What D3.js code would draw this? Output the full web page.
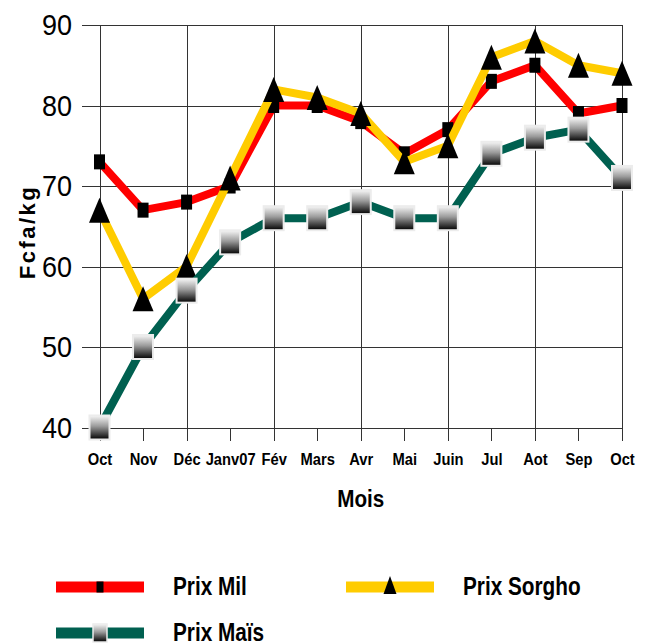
<!DOCTYPE html>
<html>
<head>
<meta charset="utf-8">
<script src="https://cdn.jsdelivr.net/npm/d3@7"></script>
<style>
  body { margin: 0; background: #fff; }
  svg { display: block; font-family: "Liberation Sans", Arial, sans-serif; }
  .grid line { stroke: #333; stroke-width: 1; shape-rendering: crispEdges; }
</style>
</head>
<body>
<div id="graph"></div>
<script>
// data
var months = ["Oct", "Nov", "Déc", "Janv07", "Fév", "Mars", "Avr", "Mai", "Juin", "Jul", "Aot", "Sep", "Oct"];
var prixMil    = [73, 67, 68, 70, 80, 80, 78, 74, 77, 83, 85, 79, 80];
var prixSorgho = [67, 56, 60, 71, 82, 81, 79, 73, 75, 86, 88, 85, 84];
var prixMais   = [40, 50, 57, 63, 66, 66, 68, 66, 66, 74, 76, 77, 71];
var yTicks = [40, 50, 60, 70, 80, 90];

var W = 649, H = 643;
var pLeft = 99.5, pRight = 622, pTop = 25, pBottom = 427.5;

var svg = d3.select("#graph").append("svg").attr("width", W).attr("height", H);
svg.append("rect").attr("width", W).attr("height", H).attr("fill", "#fff");

var defs = svg.append("defs");
var grad = defs.append("linearGradient").attr("id", "gris").attr("x1", 0).attr("y1", 0).attr("x2", 0).attr("y2", 1);
grad.append("stop").attr("offset", "0%").attr("stop-color", "#f6f6f6");
grad.append("stop").attr("offset", "45%").attr("stop-color", "#9a9a9a");
grad.append("stop").attr("offset", "100%").attr("stop-color", "#000");

var x = d3.scalePoint().domain(d3.range(months.length)).range([pLeft, pRight]);
var y = d3.scaleLinear().domain([40, 90]).range([pBottom, pTop]);

// squeeze text a bit like the original
function condense(sel, f) {
  sel.each(function () {
    var w = this.getComputedTextLength();
    d3.select(this).attr("textLength", w * f).attr("lengthAdjust", "spacingAndGlyphs");
  });
}

// horizontal grid + y labels
var gy = svg.append("g").attr("class", "grid")
  .attr("transform", "translate(" + pRight + ",0)")
  .call(d3.axisLeft(y).tickValues(yTicks).tickSize(pRight - 82).tickPadding(10));
gy.select(".domain").remove();
gy.selectAll("text").attr("font-size", 30).attr("fill", "#000")
  .attr("font-family", "Liberation Sans, Arial, sans-serif");
condense(gy.selectAll("text"), 0.9);

// vertical grid + x labels
var gx = svg.append("g").attr("class", "grid")
  .attr("transform", "translate(0," + pBottom + ")")
  .call(d3.axisBottom(x).tickSizeInner(13).tickSizeOuter(0).tickPadding(13)
    .tickFormat(function (i) { return months[i]; }));
gx.select(".domain").remove();
gx.selectAll(".tick line").filter(function (d) { return d % 2 == 0; })
  .attr("y1", pTop - pBottom);
gx.selectAll("text").attr("font-size", 16).attr("font-weight", "bold").attr("fill", "#000")
  .attr("font-family", "Liberation Sans, Arial, sans-serif");
condense(gx.selectAll("text"), 0.92);

// axis titles
var tMois = svg.append("text").text("Mois")
  .attr("x", (pLeft + pRight) / 2).attr("y", 507)
  .attr("text-anchor", "middle").attr("font-size", 24).attr("font-weight", "bold");
condense(tMois, 0.86);

svg.append("text").text("Fcfa/kg")
  .attr("transform", "translate(35,232) rotate(-90)")
  .attr("text-anchor", "middle").attr("font-size", 22).attr("font-weight", "bold")
  .attr("letter-spacing", 2.5);

var line = d3.line().x(function (d, i) { return x(i); }).y(function (d) { return y(d); });

function drawSquares(data, w, h, fill, stroke) {
  svg.append("g").selectAll("rect").data(data).enter().append("rect")
    .attr("x", function (d, i) { return x(i) - w / 2; })
    .attr("y", function (d) { return y(d) - h / 2; })
    .attr("width", w).attr("height", h)
    .attr("fill", fill)
    .attr("stroke", stroke || "none").attr("stroke-width", stroke ? 2 : 0);
}

function triPath(cx, cy, w, h) {
  return "M" + cx + "," + (cy - h / 2) + "L" + (cx + w / 2) + "," + (cy + h / 2) + "L" + (cx - w / 2) + "," + (cy + h / 2) + "Z";
}

// Prix Mil
svg.append("path").datum(prixMil).attr("d", line)
  .attr("fill", "none").attr("stroke", "#ff0000").attr("stroke-width", 8).attr("stroke-linejoin", "bevel");
drawSquares(prixMil, 11, 15, "#000");

// Prix Sorgho
svg.append("path").datum(prixSorgho).attr("d", line)
  .attr("fill", "none").attr("stroke", "#ffcc00").attr("stroke-width", 8).attr("stroke-linejoin", "bevel");
svg.append("g").selectAll("path").data(prixSorgho).enter().append("path")
  .attr("d", function (d, i) { return triPath(x(i), y(d), 21, 25); })
  .attr("fill", "#000");

// Prix Maïs
svg.append("path").datum(prixMais).attr("d", line)
  .attr("fill", "none").attr("stroke", "#006050").attr("stroke-width", 8).attr("stroke-linejoin", "bevel");
drawSquares(prixMais, 20, 24, "url(#gris)", "#ececec");

// legend
var legend = [
  { name: "Prix Mil", color: "#ff0000", mark: "sq", lx: 56, ly: 587 },
  { name: "Prix Sorgho", color: "#ffcc00", mark: "tri", lx: 346, ly: 587 },
  { name: "Prix Maïs", color: "#006050", mark: "grad", lx: 56, ly: 633 }
];
var lg = svg.append("g").selectAll("g").data(legend).enter().append("g");
lg.append("rect")
  .attr("x", function (d) { return d.lx; }).attr("y", function (d) { return d.ly - 5.5; })
  .attr("width", 88).attr("height", 11).attr("fill", function (d) { return d.color; });
lg.each(function (d) {
  var g = d3.select(this), cx = d.lx + 44;
  if (d.mark == "sq") {
    g.append("rect").attr("x", cx - 3.5).attr("y", d.ly - 5.5).attr("width", 7).attr("height", 11).attr("fill", "#000");
  } else if (d.mark == "tri") {
    g.append("path").attr("d", triPath(cx, d.ly - 2, 13, 18)).attr("fill", "#000");
  } else {
    g.append("rect").attr("x", cx - 7).attr("y", d.ly - 9).attr("width", 14).attr("height", 18)
      .attr("fill", "url(#gris)").attr("stroke", "#ececec").attr("stroke-width", 1.5);
  }
});
var lt = lg.append("text").text(function (d) { return d.name; })
  .attr("x", function (d) { return d.lx + 117; })
  .attr("y", function (d) { return d.ly + 8; })
  .attr("font-size", 25).attr("font-weight", "bold");
condense(lt, 0.83);
</script>
</body>
</html>
